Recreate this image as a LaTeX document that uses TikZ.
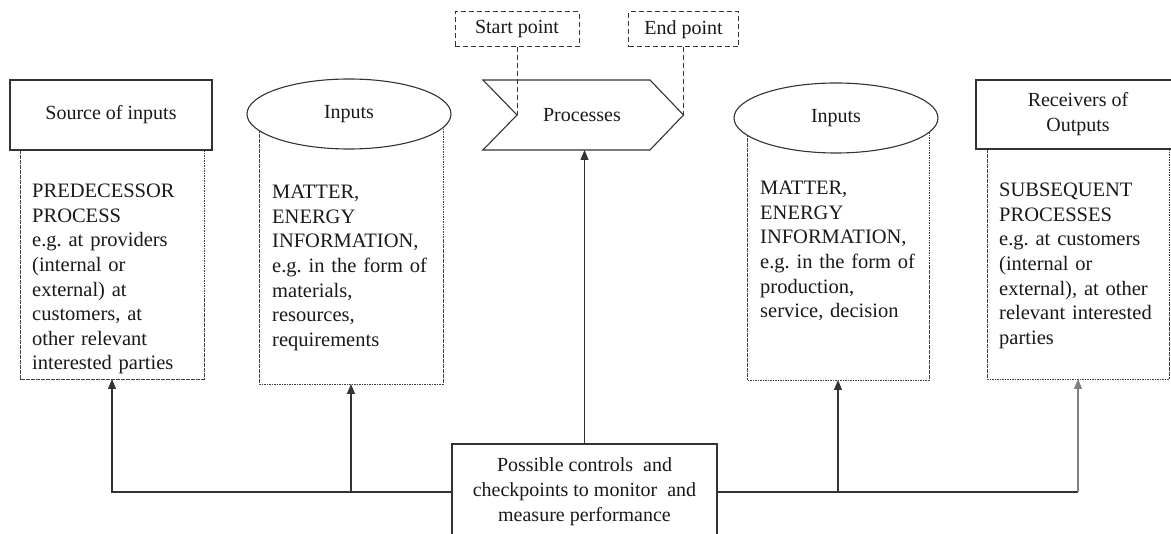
\documentclass[tikz,border=0pt]{standalone}
\usepackage{fontspec}
\setmainfont{Liberation Serif}
\usetikzlibrary{arrows.meta,shapes.geometric}
\frenchspacing
\begin{document}
\begin{tikzpicture}[x=1pt,y=-1pt,
  every node/.style={font=\fontsize{20}{25}\selectfont, text=black!90},
  solid line/.style={draw=black!80, line width=1.1pt},
  titlebox/.style={solid line, fill=white, inner sep=0pt, outer sep=0pt, align=center},
  bodyarea/.style={inner sep=0pt, outer sep=0pt},
  bodyline/.style={draw=black!75, line width=0.8pt, dash pattern=on 1.6pt off 0.9pt},
  bodytext/.style={anchor=north west, inner sep=0pt, align=left, text width=175pt,
                   font=\fontsize{20.5}{24.6}\selectfont},
  markbox/.style={draw=black!80, line width=1pt, dash pattern=on 5pt off 3pt,
                  inner sep=0pt, outer sep=0pt},
  markline/.style={draw=black!80, line width=1pt, dash pattern=on 5pt off 3pt},
  arr/.style={solid line, -{Triangle[length=10pt,width=8pt]}},
]
\useasboundingbox (0,0) rectangle (1171,534);

% ---- dashed content columns (drawn first, title shapes sit on top) ----
\node[bodyarea, minimum width=184, minimum height=229] (srcB) at (112,264.5) {};
\node[bodyarea, minimum width=184, minimum height=270] (inLB) at (351,249) {};
\node[bodyarea, minimum width=182, minimum height=262] (inRB) at (838,249) {};
\node[bodyarea, minimum width=182, minimum height=230] (rcvB) at (1078,264) {};
\foreach \b in {srcB,inLB,inRB,rcvB}
  \draw[bodyline] (\b.north west) -- (\b.south west) -- (\b.south east) -- (\b.north east);

% ---- column headers ----
\node[titlebox, minimum width=202, minimum height=70] (srcT) at (111,115) {Source of inputs};
\node[ellipse, solid line, fill=white, inner sep=0pt, minimum width=204, minimum height=70] (inL) at (349,114) {Inputs};
\node[ellipse, solid line, fill=white, inner sep=0pt, minimum width=204, minimum height=70] (inR) at (836,118) {Inputs};
\node[titlebox, minimum width=204, minimum height=69] (rcvT) at (1078,114.5) {Receivers of\\Outputs};

% ---- column texts ----
\node[bodytext] (srcX) at (32,184) {PREDECESSOR\\PROCESS\\e.g. at providers\\(internal or\\external) at\\customers, at\\other relevant\\interested parties};
\node[bodytext] (inLX) at (272,185) {MATTER,\\ENERGY\\INFORMATION,\\e.g. in the form of\\materials,\\resources,\\requirements};
\node[bodytext] (inRX) at (760,181) {MATTER,\\ENERGY\\INFORMATION,\\e.g. in the form of\\production,\\service, decision};
\node[bodytext] (rcvX) at (999,183) {SUBSEQUENT\\PROCESSES\\e.g. at customers\\(internal or\\external), at other\\relevant interested\\parties};

% ---- process chevron ----
\coordinate (procNotch) at (517,115);
\coordinate (procTip) at (683.5,115);
\coordinate (procS) at (584,150);
\draw[solid line] (483,80) -- (650,80) -- (procTip) -- (650,150) -- (483,150) -- (procNotch) -- cycle;
\node (proc) at (582,115) {Processes};

% ---- start / end markers ----
\node[markbox, minimum width=124, minimum height=35] (startB) at (517,29.5) {Start point};
\node[markbox, minimum width=110, minimum height=35] (endB) at (683.5,29.5) {End point};
\draw[markline] (startB.south) -- (procNotch);
\draw[markline] (endB.south) -- (procTip);

% ---- controls box and connectors ----
\node[titlebox, minimum width=265, minimum height=96] (ctrl) at (584.5,492)
  {Possible controls~ and\\checkpoints to monitor~ and\\measure performance};
\draw[arr] (ctrl.north) -- (ctrl.north |- procS);
\draw[arr] (ctrl.west) -| (srcB.south);
\draw[arr] (ctrl.west -| inLB.south) -- (inLB.south);
\draw[arr] (ctrl.east -| inRB.south) -- (inRB.south);
\draw[solid line] (ctrl.east) -- (ctrl.east -| rcvB.south);
\draw[arr, draw=black!50] (ctrl.east -| rcvB.south) -- (rcvB.south);
\end{tikzpicture}
\end{document}
